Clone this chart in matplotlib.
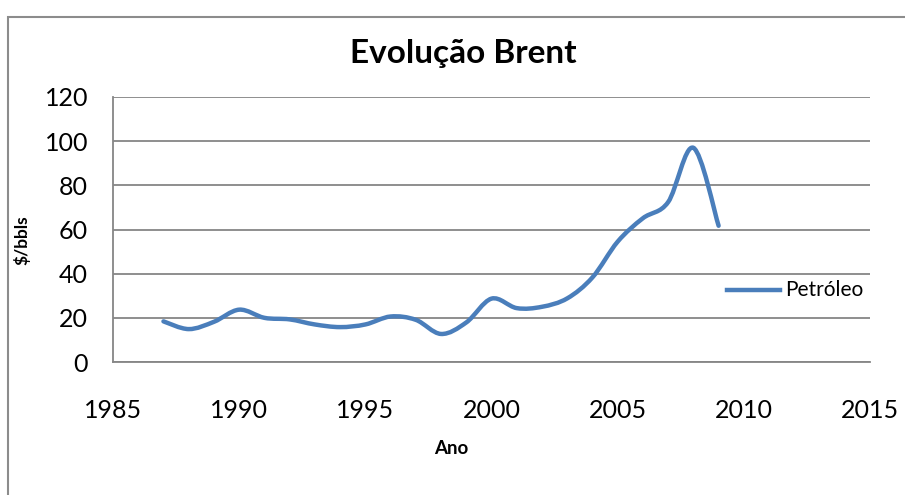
import matplotlib
matplotlib.use("Agg")
from matplotlib import pyplot as plt
from matplotlib.path import Path
from matplotlib.patches import PathPatch, Rectangle
from matplotlib.lines import Line2D

# Brent yearly average, $/bbl
years = [1987, 1988, 1989, 1990, 1991, 1992, 1993, 1994, 1995, 1996, 1997, 1998,
         1999, 2000, 2001, 2002, 2003, 2004, 2005, 2006, 2007, 2008, 2009]
prices = [18.4, 14.9, 18.2, 23.7, 20.0, 19.3, 17.0, 15.8, 17.0, 20.6, 19.1, 12.7,
          17.9, 28.7, 24.4, 25.0, 28.8, 38.3, 54.5, 65.1, 72.4, 97.0, 61.7]
x_ticks = [1985, 1990, 1995, 2000, 2005, 2010, 2015]
y_ticks = [0, 20, 40, 60, 80, 100, 120]

LINE_COLOR = "#4A7EBB"
GRID_COLOR = "#868686"
plt.rcParams["font.family"] = ["Lato", "DejaVu Sans"]


def smooth_path(xs, ys):
    # Excel-like smoothed line: cubic Bezier with Catmull-Rom control points
    n = len(xs)
    verts = [(xs[0], ys[0])]
    codes = [Path.MOVETO]
    for i in range(n - 1):
        x0, y0 = (xs[i - 1], ys[i - 1]) if i > 0 else (xs[i], ys[i])
        x3, y3 = (xs[i + 2], ys[i + 2]) if i + 2 < n else (xs[i + 1], ys[i + 1])
        c1 = (xs[i] + (xs[i + 1] - x0) / 6, ys[i] + (ys[i + 1] - y0) / 6)
        c2 = (xs[i + 1] - (x3 - xs[i]) / 6, ys[i + 1] - (y3 - ys[i]) / 6)
        verts += [c1, c2, (xs[i + 1], ys[i + 1])]
        codes += [Path.CURVE4] * 3
    return Path(verts, codes)


W, H = 905, 495
fig = plt.figure(figsize=(W / 100, H / 100), dpi=100)

# chart border
fig.patches.append(Rectangle((8 / W, -0.1), 1.2, 1 - 17 / H + 0.1, transform=fig.transFigure,
                             fill=False, edgecolor="#8c8c8c", linewidth=1.5))

left, right, top, bottom = 113, 870, 97, 362
ax = fig.add_axes([left / W, 1 - bottom / H, (right - left) / W, (bottom - top) / H])

ax.add_patch(PathPatch(smooth_path(years, prices), fill=False, edgecolor=LINE_COLOR,
                       linewidth=3.2, capstyle="round", joinstyle="round", zorder=3))

ax.set_xlim(1985, 2015)
ax.set_ylim(0, 120)
ax.set_xticks(x_ticks)
ax.set_yticks(y_ticks)
ax.tick_params(length=0, labelsize=18)
ax.tick_params(axis="x", pad=27)
ax.tick_params(axis="y", pad=18)
ax.yaxis.grid(True, color=GRID_COLOR, linewidth=1.3)
ax.set_axisbelow(True)
for side in ["top", "right"]:
    ax.spines[side].set_visible(False)
for side in ["left", "bottom"]:
    ax.spines[side].set_color(GRID_COLOR)
    ax.spines[side].set_linewidth(1.3)

fig.text(463 / W, 1 - 53 / H, "Evolução Brent", ha="center", va="center",
         fontsize=24, fontweight="bold")
fig.text(22 / W, 1 - 240 / H, "$/bbls", ha="center", va="center", rotation=90,
         fontsize=12.5, fontweight="bold")
fig.text(451 / W, 1 - 448 / H, "Ano", ha="center", va="center",
         fontsize=13.5, fontweight="bold")

# legend
fig.lines.append(Line2D([727 / W, 780 / W], [1 - 290 / H] * 2, transform=fig.transFigure,
                        color=LINE_COLOR, linewidth=3.2))
fig.text(785 / W, 1 - 290 / H, "Petróleo", ha="left", va="center", fontsize=15)

fig.savefig("out.png", dpi=100)
